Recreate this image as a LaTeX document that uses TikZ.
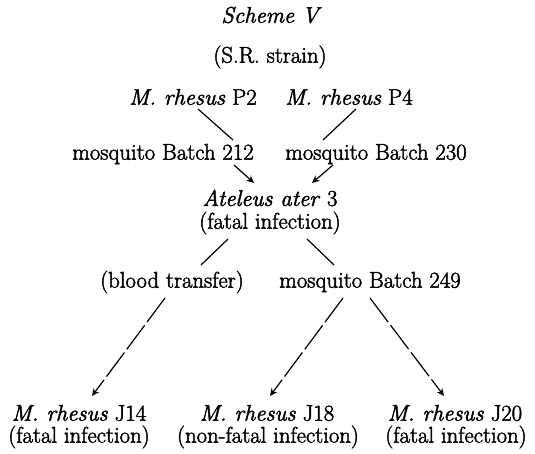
\documentclass[tikz,border=0pt]{standalone}
\usepackage{fontspec}
\setmainfont{Latin Modern Roman}[FakeBold=2]
\usetikzlibrary{arrows.meta}
\begin{document}
\begin{tikzpicture}[x=1pt,y=-1pt,
  txt/.style={inner sep=0pt,font=\fontsize{22.7}{26}\selectfont},
  ln/.style={line width=1.2pt},
  arr/.style={ln,-{Stealth[length=7.5pt,width=7pt]}},
  dsh/.style={arr,dash pattern=on 30pt off 4pt}]
\useasboundingbox (0,0) rectangle (535,454);
\node[txt] (title) at (270,15) {\itshape Scheme V};
\node[txt] (strain) at (270,57) {(S.R. strain)};
\node[txt] (p2) at (193,97) {\textit{M. rhesus} P2};
\node[txt] (p4) at (349,97) {\textit{M. rhesus} P4};
\node[txt] (b212) at (163,154) {mosquito Batch 212};
\node[txt] (b230) at (376,154) {mosquito Batch 230};
\node[txt] (at) at (270,198) {\textit{Ateleus ater} 3};
\node[txt] (atf) at (270,223) {(fatal infection)};
\node[txt] (blood) at (172,282) {(blood transfer)};
\node[txt] (b249) at (370,282) {mosquito Batch 249};
\node[txt] (j14) at (79,413) {\textit{M. rhesus} J14};
\node[txt] (j14f) at (79,437) {(fatal infection)};
\node[txt] (j18) at (267,413) {\textit{M. rhesus} J18};
\node[txt] (j18f) at (268,437) {(non-fatal infection)};
\node[txt] (j20) at (455,413) {\textit{M. rhesus} J20};
\node[txt] (j20f) at (456,437) {(fatal infection)};
\coordinate (c1) at (198,109); \coordinate (c2) at (233,140);
\coordinate (c3) at (356,109); \coordinate (c4) at (323,140);
\draw[ln] (c1) -- (c2);
\draw[ln] (c3) -- (c4);
\coordinate (a1) at (234,165); \coordinate (a2) at (254,183);
\coordinate (a3) at (333,165); \coordinate (a4) at (312,183);
\draw[arr] (a1) -- (a2);
\draw[arr] (a3) -- (a4);
\coordinate (d1) at (228,239); \coordinate (d2) at (201,265);
\coordinate (d3) at (307,239); \coordinate (d4) at (334,265);
\draw[ln] (d1) -- (d2);
\draw[ln] (d3) -- (d4);
\coordinate (e1) at (165,298); \coordinate (e2) at (92,396);
\coordinate (e3) at (343,298); \coordinate (e4) at (270,396);
\coordinate (e5) at (370,298); \coordinate (e6) at (444,396);
\draw[dsh] (e1) -- (e2);
\draw[dsh] (e3) -- (e4);
\draw[dsh] (e5) -- (e6);
\end{tikzpicture}
\end{document}
